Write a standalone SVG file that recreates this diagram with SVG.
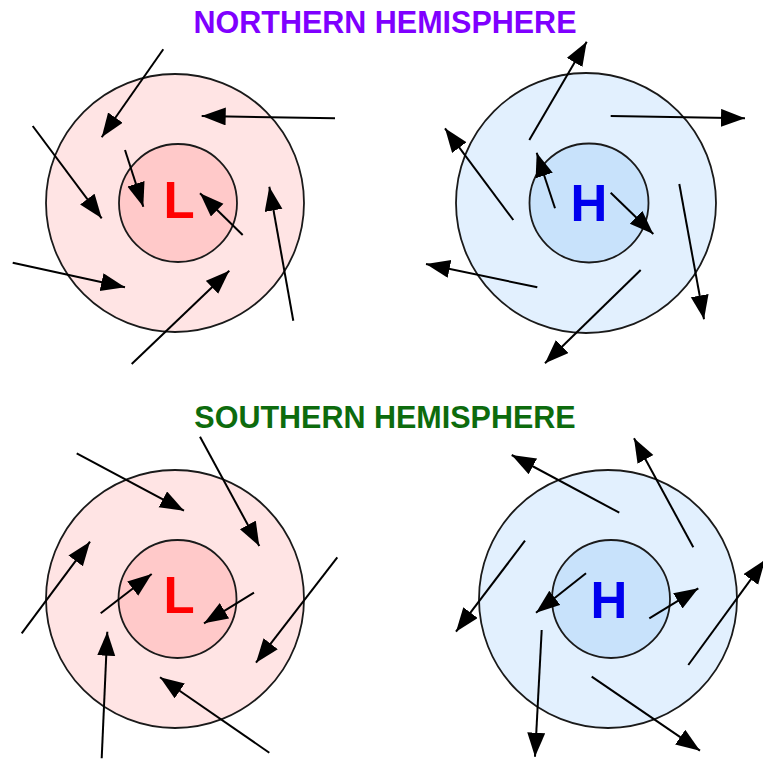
<svg xmlns="http://www.w3.org/2000/svg" width="763" height="762" viewBox="0 0 763 762">
<style>
.title{font-family:"Liberation Sans",Arial,sans-serif;font-weight:bold;font-size:30.5px;text-anchor:middle}
.lbl{font-family:"Liberation Sans",Arial,sans-serif;font-weight:bold;font-size:51px;text-anchor:middle}
.ring{stroke:#1a1a1a;stroke-width:1.8}
.lowO{fill:#ffe4e4}.lowI{fill:#ffc9c9}
.highO{fill:#e2f0fe}.highI{fill:#c8e2fb}
.arr{stroke:#000;stroke-width:2;fill:none;marker-end:url(#ah)}
</style>
<defs>
<marker id="ah" markerUnits="userSpaceOnUse" markerWidth="26" markerHeight="20" refX="24" refY="9" orient="auto">
<path d="M0,0 L24,9 L0,18 Z" fill="#000"/>
</marker>
</defs>
<rect width="763" height="762" fill="#fff"/>
<g id="title-north"><text class="title" x="385" y="33" fill="#7f00ff">NORTHERN HEMISPHERE</text></g>
<g id="title-south"><text class="title" x="385" y="428" fill="#0d6b0d">SOUTHERN HEMISPHERE</text></g>
<g id="nh-low">
<circle class="ring lowO" cx="175" cy="203" r="129"/>
<circle class="ring lowI" cx="178" cy="203" r="59"/>
<text class="lbl" x="179" y="218" fill="#ff0000">L</text>
</g>
<g id="nh-high">
<circle class="ring highO" cx="586" cy="203" r="130"/>
<circle class="ring highI" cx="589" cy="203" r="59.5"/>
<text class="lbl" x="589" y="221" fill="#0000ee">H</text>
</g>
<g id="sh-low">
<circle class="ring lowO" cx="175" cy="599" r="129"/>
<circle class="ring lowI" cx="177.5" cy="599" r="59"/>
<text class="lbl" x="179" y="613" fill="#ff0000">L</text>
</g>
<g id="sh-high">
<circle class="ring highO" cx="608" cy="599" r="129"/>
<circle class="ring highI" cx="611" cy="599" r="59"/>
<text class="lbl" x="609" y="618" fill="#0000ee">H</text>
</g>
<g id="connectors">
<line class="arr" x1="163.3" y1="49.3" x2="101.7" y2="137.3"/>
<line class="arr" x1="32.7" y1="126" x2="101.7" y2="218.3"/>
<line class="arr" x1="335" y1="118.3" x2="201.7" y2="116"/>
<line class="arr" x1="125" y1="150" x2="143.3" y2="206.7"/>
<line class="arr" x1="242.7" y1="235" x2="200" y2="193.3"/>
<line class="arr" x1="293.3" y1="320.7" x2="269.3" y2="186.7"/>
<line class="arr" x1="12.7" y1="262.7" x2="125" y2="287.3"/>
<line class="arr" x1="131.7" y1="364" x2="229.3" y2="270.7"/>

<line class="arr" x1="529.3" y1="140" x2="586.7" y2="41.7"/>
<line class="arr" x1="610.7" y1="116" x2="745" y2="118.3"/>
<line class="arr" x1="513.3" y1="220" x2="445" y2="128.3"/>
<line class="arr" x1="555" y1="208.3" x2="536.7" y2="152.7"/>
<line class="arr" x1="610.7" y1="192.7" x2="653.3" y2="234"/>
<line class="arr" x1="679.3" y1="184" x2="704" y2="319.3"/>
<line class="arr" x1="537.3" y1="287.3" x2="426" y2="264"/>
<line class="arr" x1="640.7" y1="270" x2="545" y2="363.3"/>

<line class="arr" x1="76.7" y1="453.3" x2="184" y2="510.7"/>
<line class="arr" x1="200" y1="436.7" x2="259.3" y2="546"/>
<line class="arr" x1="21.7" y1="633.3" x2="90" y2="541.7"/>
<line class="arr" x1="100.7" y1="613.3" x2="151.7" y2="574"/>
<line class="arr" x1="254" y1="592.7" x2="204" y2="623.3"/>
<line class="arr" x1="337.3" y1="557.3" x2="256" y2="662.7"/>
<line class="arr" x1="101.7" y1="758.3" x2="107.3" y2="631.7"/>
<line class="arr" x1="269.3" y1="752.7" x2="160" y2="677.3"/>

<line class="arr" x1="619.3" y1="512.7" x2="511.7" y2="455"/>
<line class="arr" x1="693.3" y1="547.3" x2="634" y2="438.3"/>
<line class="arr" x1="525" y1="540.7" x2="456" y2="631.7"/>
<line class="arr" x1="586" y1="573.3" x2="536" y2="612.7"/>
<line class="arr" x1="649.3" y1="618.3" x2="698.3" y2="588.3"/>
<line class="arr" x1="688.3" y1="665" x2="765" y2="560"/>
<line class="arr" x1="541.7" y1="630" x2="535" y2="756.7"/>
<line class="arr" x1="591.7" y1="676.7" x2="700" y2="750.7"/>
</g>
</svg>
